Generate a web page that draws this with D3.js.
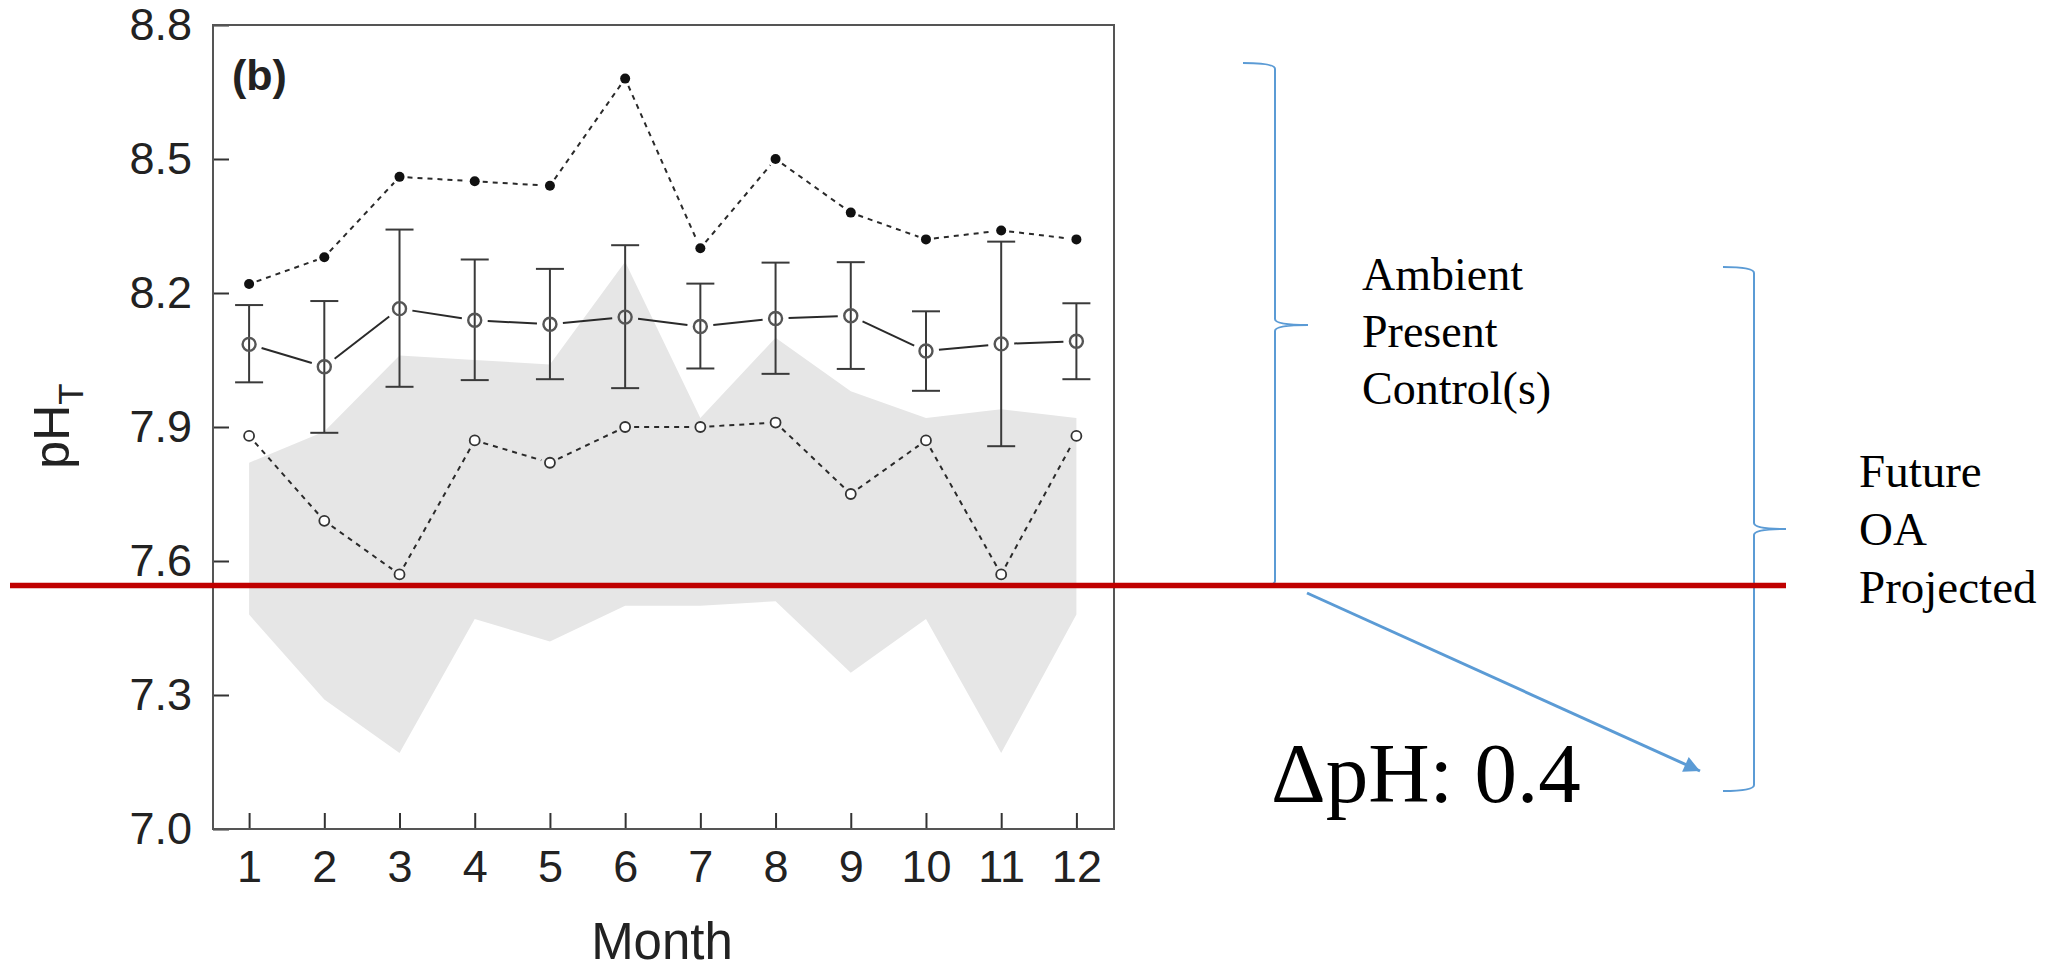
<!DOCTYPE html>
<html>
<head>
<meta charset="utf-8">
<script src="https://cdn.jsdelivr.net/npm/d3@7"></script>
<style>
  html, body { margin: 0; padding: 0; background: #ffffff; }
  svg { display: block; }
</style>
</head>
<body>
<script>
// Monthly pH_T: max / mean ± sd / min, plus the shaded range of projected values
const months   = [1, 2, 3, 4, 5, 6, 7, 8, 9, 10, 11, 12];
const maxPH    = [8.22, 8.28, 8.46, 8.45, 8.44, 8.68, 8.30, 8.50, 8.38, 8.32, 8.34, 8.32];
const meanPH   = [8.085, 8.035, 8.165, 8.139, 8.130, 8.146, 8.125, 8.143, 8.149, 8.070, 8.086, 8.092];
const sdHigh   = [8.173, 8.182, 8.342, 8.275, 8.254, 8.307, 8.221, 8.268, 8.269, 8.159, 8.315, 8.177];
const sdLow    = [8.000, 7.887, 7.990, 8.005, 8.007, 7.987, 8.031, 8.019, 8.030, 7.981, 7.857, 8.007];
const minPH    = [7.88, 7.69, 7.57, 7.87, 7.82, 7.90, 7.90, 7.91, 7.75, 7.87, 7.57, 7.88];
const bandHigh = [7.82, 7.89, 8.06, 8.05, 8.04, 8.27, 7.92, 8.10, 7.98, 7.92, 7.94, 7.92];
const bandLow  = [7.48, 7.29, 7.17, 7.47, 7.42, 7.50, 7.50, 7.51, 7.35, 7.47, 7.17, 7.48];
const yTicks   = [7.0, 7.3, 7.6, 7.9, 8.2, 8.5, 8.8];
const oaLevel  = 7.545;
const deltaPH  = 0.4;

const W = 2049, H = 971;
const svg = d3.select("body").append("svg").attr("width", W).attr("height", H);

const x = d3.scaleLinear().domain([0.52, 12.5]).range([213, 1114]);
const y = d3.scaleLinear().domain([7.0, 8.8]).range([829, 25]);

const rows = months.map((m, i) => ({
  m, max: maxPH[i], mean: meanPH[i], hi: sdHigh[i], lo: sdLow[i],
  min: minPH[i], bHi: bandHigh[i], bLo: bandLow[i]
}));

const plot = svg.append("g");

// shaded band
plot.append("path")
  .datum(rows)
  .attr("d", d3.area().x(d => x(d.m)).y0(d => y(d.bLo)).y1(d => y(d.bHi)))
  .attr("fill", "#e6e6e6");

// line segments trimmed around the markers
function segments(key, gap) {
  const out = [];
  for (let i = 0; i < rows.length - 1; i++) {
    const x1 = x(rows[i].m), y1 = y(rows[i][key]);
    const x2 = x(rows[i + 1].m), y2 = y(rows[i + 1][key]);
    const len = Math.hypot(x2 - x1, y2 - y1);
    const ux = (x2 - x1) / len, uy = (y2 - y1) / len;
    out.push({ x1: x1 + ux * gap, y1: y1 + uy * gap, x2: x2 - ux * gap, y2: y2 - uy * gap });
  }
  return out;
}

function drawSegs(key, gap, dash, width) {
  plot.append("g").selectAll("line").data(segments(key, gap)).join("line")
    .attr("x1", d => d.x1).attr("y1", d => d.y1)
    .attr("x2", d => d.x2).attr("y2", d => d.y2)
    .attr("stroke", "#2a2a2a").attr("stroke-width", width)
    .attr("stroke-dasharray", dash);
}

drawSegs("max", 8, "5,5", 2);
drawSegs("min", 9, "5,5", 2);

// error bars
const eb = plot.append("g").attr("stroke", "#3a3a3a").attr("stroke-width", 2);
eb.selectAll("line.v").data(rows).join("line").attr("class", "v")
  .attr("x1", d => x(d.m)).attr("x2", d => x(d.m))
  .attr("y1", d => y(d.hi)).attr("y2", d => y(d.lo));
eb.selectAll("line.t").data(rows).join("line").attr("class", "t")
  .attr("x1", d => x(d.m) - 14).attr("x2", d => x(d.m) + 14)
  .attr("y1", d => y(d.hi)).attr("y2", d => y(d.hi));
eb.selectAll("line.b").data(rows).join("line").attr("class", "b")
  .attr("x1", d => x(d.m) - 14).attr("x2", d => x(d.m) + 14)
  .attr("y1", d => y(d.lo)).attr("y2", d => y(d.lo));

drawSegs("mean", 13, null, 2);

// markers
plot.append("g").selectAll("circle").data(rows).join("circle")
  .attr("cx", d => x(d.m)).attr("cy", d => y(d.max)).attr("r", 5)
  .attr("fill", "#111");
plot.append("g").selectAll("circle").data(rows).join("circle")
  .attr("cx", d => x(d.m)).attr("cy", d => y(d.min)).attr("r", 5)
  .attr("fill", "#fff").attr("stroke", "#333").attr("stroke-width", 1.8);
plot.append("g").selectAll("circle").data(rows).join("circle")
  .attr("cx", d => x(d.m)).attr("cy", d => y(d.mean)).attr("r", 6.5)
  .attr("fill", "none").attr("stroke", "#555").attr("stroke-width", 2.4);

// axes
const axisFont = "'Liberation Sans', Arial, sans-serif";
const gy = svg.append("g").attr("transform", `translate(${x.range()[0]},0)`)
  .call(d3.axisLeft(y).tickValues(yTicks).tickFormat(d3.format(".1f")).tickSize(-16).tickPadding(21));
const gx = svg.append("g").attr("transform", `translate(0,${y.range()[0]})`)
  .call(d3.axisBottom(x).tickValues(months).tickFormat(d3.format("d")).tickSize(-16).tickPadding(21));
[gx, gy].forEach(g => {
  g.select(".domain").remove();
  g.selectAll(".tick line").attr("stroke", "#333").attr("stroke-width", 2);
  g.selectAll(".tick text").attr("font-family", axisFont).attr("font-size", 45).attr("fill", "#222");
});

// frame
svg.append("rect")
  .attr("x", x.range()[0]).attr("y", y.range()[1])
  .attr("width", x.range()[1] - x.range()[0]).attr("height", y.range()[0] - y.range()[1])
  .attr("fill", "none").attr("stroke", "#555").attr("stroke-width", 2);

// panel tag and axis titles
svg.append("text").attr("x", 232).attr("y", 90)
  .attr("font-family", axisFont).attr("font-weight", "bold").attr("font-size", 43).attr("fill", "#222")
  .text("(b)");

svg.append("text").attr("x", 662).attr("y", 959).attr("text-anchor", "middle")
  .attr("font-family", axisFont).attr("font-size", 51).attr("fill", "#222")
  .text("Month");

const yl = svg.append("text").attr("transform", "translate(69,426) rotate(-90)")
  .attr("text-anchor", "middle").attr("font-family", axisFont).attr("font-size", 50).attr("fill", "#222");
yl.append("tspan").text("pH");
yl.append("tspan").attr("font-size", 35).attr("dy", 14).text("T");

// annotation geometry
const blue = "#5b9bd5";
const serif = "'Liberation Serif', 'Times New Roman', serif";

function brace(x0, x1, x2, top, bot, r) {
  const mid = (top + bot) / 2;
  return `M${x0},${top} Q${x1},${top} ${x1},${top + r} L${x1},${mid - r} Q${x1},${mid} ${x2},${mid}` +
         ` Q${x1},${mid} ${x1},${mid + r} L${x1},${bot - r} Q${x1},${bot} ${x0},${bot}`;
}

svg.append("path").attr("d", brace(1243, 1275, 1308, 63, 587, 6))
  .attr("fill", "none").attr("stroke", blue).attr("stroke-width", 2);
svg.append("path").attr("d", brace(1723, 1754, 1786, 267, 791, 6))
  .attr("fill", "none").attr("stroke", blue).attr("stroke-width", 2);

// OA threshold line
svg.append("line")
  .attr("x1", 10).attr("x2", 1786)
  .attr("y1", y(oaLevel)).attr("y2", y(oaLevel))
  .attr("stroke", "#c00000").attr("stroke-width", 5.5);

// arrow toward the delta label
svg.append("defs").append("marker")
  .attr("id", "head").attr("viewBox", "0 0 10 10").attr("refX", 10).attr("refY", 5)
  .attr("markerUnits", "userSpaceOnUse").attr("markerWidth", 19).attr("markerHeight", 16)
  .attr("orient", "auto")
  .append("path").attr("d", "M0,0 L10,5 L0,10 Z").attr("fill", blue);
svg.append("line")
  .attr("x1", 1307).attr("y1", 593).attr("x2", 1700).attr("y2", 771)
  .attr("stroke", blue).attr("stroke-width", 3).attr("marker-end", "url(#head)");

// annotation texts
const t1 = svg.append("text").attr("font-family", serif).attr("font-size", 46).attr("fill", "#000");
["Ambient", "Present", "Control(s)"].forEach((s, i) =>
  t1.append("tspan").attr("x", 1362).attr("y", 290 + i * 57).text(s));
const t2 = svg.append("text").attr("font-family", serif).attr("font-size", 47).attr("fill", "#000");
["Future", "OA", "Projected"].forEach((s, i) =>
  t2.append("tspan").attr("x", 1859).attr("y", 487 + i * 58).text(s));

svg.append("text").attr("x", 1271).attr("y", 802)
  .attr("font-family", serif).attr("font-size", 85).attr("fill", "#000")
  .text(`ΔpH: ${deltaPH}`);
</script>
</body>
</html>
